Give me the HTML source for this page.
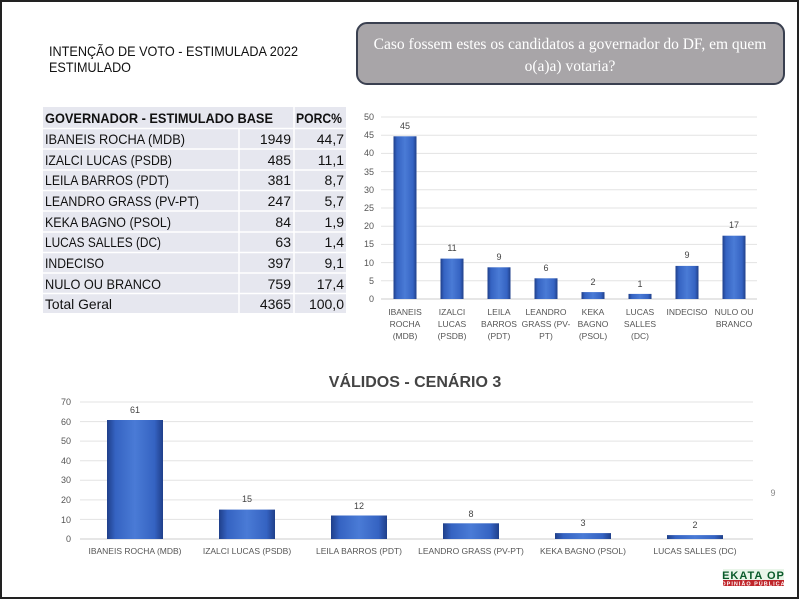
<!DOCTYPE html>
<html><head><meta charset="utf-8"><style>
html,body{margin:0;padding:0;background:#fff}
svg{display:block;font-family:"Liberation Sans",sans-serif}
</style></head><body>
<svg width="800" height="600" viewBox="0 0 800 600" xmlns="http://www.w3.org/2000/svg">
<defs>
<linearGradient id="bg" x1="0" x2="1" y1="0" y2="0">
<stop offset="0" stop-color="#1f3f8a"/><stop offset="0.15" stop-color="#3563c2"/><stop offset="0.5" stop-color="#4a7bd6"/><stop offset="0.85" stop-color="#3563c2"/><stop offset="1" stop-color="#1f3f8a"/>
</linearGradient>
</defs>
<rect x="0" y="0" width="800" height="600" fill="#fff"/>
<rect x="1" y="1" width="797" height="597" fill="none" stroke="#222" stroke-width="2"/>
<text x="49" y="56" font-size="14" fill="#111" textLength="249" lengthAdjust="spacingAndGlyphs">INTENÇÃO DE VOTO - ESTIMULADA 2022</text>
<text x="49" y="72" font-size="14" fill="#111" textLength="82" lengthAdjust="spacingAndGlyphs">ESTIMULADO</text>
<rect x="357" y="23" width="427" height="61" rx="10" fill="#a8a5a8" stroke="#3a4050" stroke-width="2"/>
<text x="570" y="49" font-size="15.5" fill="#fff" text-anchor="middle" font-family="Liberation Serif,serif">Caso fossem estes os candidatos a governador do DF, em quem</text>
<text x="570" y="71" font-size="15.5" fill="#fff" text-anchor="middle" font-family="Liberation Serif,serif">o(a)a) votaria?</text>
<!-- table -->
<rect x="43" y="107" width="303" height="206" fill="#e6e7ef"/>
<g stroke="#fff" stroke-width="1.5">
<line x1="43" y1="128.5" x2="346" y2="128.5"/><line x1="43" y1="149" x2="346" y2="149"/><line x1="43" y1="170" x2="346" y2="170"/><line x1="43" y1="190.5" x2="346" y2="190.5"/><line x1="43" y1="211" x2="346" y2="211"/><line x1="43" y1="232" x2="346" y2="232"/><line x1="43" y1="252.5" x2="346" y2="252.5"/><line x1="43" y1="273" x2="346" y2="273"/><line x1="43" y1="293.5" x2="346" y2="293.5"/>
<line x1="239" y1="128" x2="239" y2="313"/><line x1="294" y1="107" x2="294" y2="313"/>
</g>
<g font-size="14" fill="#111">
<text x="45" y="123" font-weight="bold" textLength="228" lengthAdjust="spacingAndGlyphs">GOVERNADOR - ESTIMULADO BASE</text>
<text x="296" y="123" font-weight="bold" textLength="46" lengthAdjust="spacingAndGlyphs">PORC%</text>
<g>
<text x="45" y="144" textLength="140" lengthAdjust="spacingAndGlyphs">IBANEIS ROCHA (MDB)</text>
<text x="45" y="165" textLength="127" lengthAdjust="spacingAndGlyphs">IZALCI LUCAS (PSDB)</text>
<text x="45" y="185" textLength="124" lengthAdjust="spacingAndGlyphs">LEILA BARROS (PDT)</text>
<text x="45" y="206" textLength="154" lengthAdjust="spacingAndGlyphs">LEANDRO GRASS (PV-PT)</text>
<text x="45" y="227" textLength="126" lengthAdjust="spacingAndGlyphs">KEKA BAGNO (PSOL)</text>
<text x="45" y="247" textLength="116" lengthAdjust="spacingAndGlyphs">LUCAS SALLES (DC)</text>
<text x="45" y="268" textLength="59" lengthAdjust="spacingAndGlyphs">INDECISO</text>
<text x="45" y="289" textLength="116" lengthAdjust="spacingAndGlyphs">NULO OU BRANCO</text>
<text x="45" y="309" textLength="67" lengthAdjust="spacingAndGlyphs">Total Geral</text>
</g>
<g text-anchor="end">
<text x="291" y="144">1949</text><text x="344" y="144">44,7</text>
<text x="291" y="165">485</text><text x="344" y="165">11,1</text>
<text x="291" y="185">381</text><text x="344" y="185">8,7</text>
<text x="291" y="206">247</text><text x="344" y="206">5,7</text>
<text x="291" y="227">84</text><text x="344" y="227">1,9</text>
<text x="291" y="247">63</text><text x="344" y="247">1,4</text>
<text x="291" y="268">397</text><text x="344" y="268">9,1</text>
<text x="291" y="289">759</text><text x="344" y="289">17,4</text>
<text x="291" y="309">4365</text><text x="344" y="309">100,0</text>
</g>
</g>
<!-- top chart -->
<g stroke="#e3e3e3" stroke-width="1">
<line x1="381" x2="757" y1="117" y2="117"/><line x1="381" x2="757" y1="135.2" y2="135.2"/><line x1="381" x2="757" y1="153.4" y2="153.4"/><line x1="381" x2="757" y1="171.6" y2="171.6"/><line x1="381" x2="757" y1="189.8" y2="189.8"/><line x1="381" x2="757" y1="208" y2="208"/><line x1="381" x2="757" y1="226.2" y2="226.2"/><line x1="381" x2="757" y1="244.4" y2="244.4"/><line x1="381" x2="757" y1="262.6" y2="262.6"/><line x1="381" x2="757" y1="280.8" y2="280.8"/>
</g>
<line x1="381" x2="757" y1="299" y2="299" stroke="#ccc"/>
<g font-size="9" fill="#555" text-anchor="end">
<text x="374" y="120">50</text><text x="374" y="138">45</text><text x="374" y="156">40</text><text x="374" y="175">35</text><text x="374" y="193">30</text><text x="374" y="211">25</text><text x="374" y="229">20</text><text x="374" y="247">15</text><text x="374" y="266">10</text><text x="374" y="284">5</text><text x="374" y="302">0</text>
</g>
<g fill="url(#bg)">
<rect x="393.5" y="136.3" width="23" height="162.7"/>
<rect x="440.5" y="258.6" width="23" height="40.4"/>
<rect x="487.5" y="267.3" width="23" height="31.7"/>
<rect x="534.5" y="278.3" width="23" height="20.7"/>
<rect x="581.5" y="292.1" width="23" height="6.9"/>
<rect x="628.5" y="293.9" width="23" height="5.1"/>
<rect x="675.5" y="265.9" width="23" height="33.1"/>
<rect x="722.5" y="235.7" width="23" height="63.3"/>
</g>
<g font-size="9" fill="#444" text-anchor="middle">
<text x="405" y="129">45</text><text x="452" y="251">11</text><text x="499" y="260">9</text><text x="546" y="271">6</text><text x="593" y="285">2</text><text x="640" y="287">1</text><text x="687" y="258">9</text><text x="734" y="228">17</text>
</g>
<g font-size="8.5" fill="#555" text-anchor="middle">
<text x="405" y="315">IBANEIS</text><text x="405" y="327">ROCHA</text><text x="405" y="339">(MDB)</text>
<text x="452" y="315">IZALCI</text><text x="452" y="327">LUCAS</text><text x="452" y="339">(PSDB)</text>
<text x="499" y="315">LEILA</text><text x="499" y="327">BARROS</text><text x="499" y="339">(PDT)</text>
<text x="546" y="315">LEANDRO</text><text x="546" y="327">GRASS (PV-</text><text x="546" y="339">PT)</text>
<text x="593" y="315">KEKA</text><text x="593" y="327">BAGNO</text><text x="593" y="339">(PSOL)</text>
<text x="640" y="315">LUCAS</text><text x="640" y="327">SALLES</text><text x="640" y="339">(DC)</text>
<text x="687" y="315">INDECISO</text>
<text x="734" y="315">NULO OU</text><text x="734" y="327">BRANCO</text>
</g>
<!-- bottom chart -->
<text x="415" y="387" font-size="16" font-weight="bold" fill="#444" text-anchor="middle">VÁLIDOS - CENÁRIO 3</text>
<g stroke="#e3e3e3" stroke-width="1">
<line x1="80" x2="753" y1="402" y2="402"/><line x1="80" x2="753" y1="421.6" y2="421.6"/><line x1="80" x2="753" y1="441.1" y2="441.1"/><line x1="80" x2="753" y1="460.7" y2="460.7"/><line x1="80" x2="753" y1="480.3" y2="480.3"/><line x1="80" x2="753" y1="499.9" y2="499.9"/><line x1="80" x2="753" y1="519.4" y2="519.4"/>
</g>
<line x1="80" x2="753" y1="539" y2="539" stroke="#ccc"/>
<g font-size="9" fill="#555" text-anchor="end">
<text x="71" y="405">70</text><text x="71" y="425">60</text><text x="71" y="444">50</text><text x="71" y="464">40</text><text x="71" y="483">30</text><text x="71" y="503">20</text><text x="71" y="523">10</text><text x="71" y="542">0</text>
</g>
<g fill="url(#bg)">
<rect x="107" y="420" width="56" height="119"/>
<rect x="219" y="509.6" width="56" height="29.4"/>
<rect x="331" y="515.5" width="56" height="23.5"/>
<rect x="443" y="523.3" width="56" height="15.7"/>
<rect x="555" y="533.1" width="56" height="5.9"/>
<rect x="667" y="535.1" width="56" height="3.9"/>
</g>
<g font-size="9" fill="#444" text-anchor="middle">
<text x="135" y="413">61</text><text x="247" y="502">15</text><text x="359" y="509">12</text><text x="471" y="517">8</text><text x="583" y="526">3</text><text x="695" y="528">2</text>
<text x="773" y="496" fill="#888">9</text>
</g>
<g font-size="8.5" fill="#555" text-anchor="middle">
<text x="135" y="554">IBANEIS ROCHA (MDB)</text><text x="247" y="554">IZALCI LUCAS (PSDB)</text><text x="359" y="554">LEILA BARROS (PDT)</text><text x="471" y="554">LEANDRO GRASS (PV-PT)</text><text x="583" y="554">KEKA BAGNO (PSOL)</text><text x="695" y="554">LUCAS SALLES (DC)</text>
</g>
<!-- logo -->
<rect x="723" y="569" width="61" height="11" fill="#e9f5e9"/>
<text x="753.5" y="579" font-size="11" font-weight="bold" fill="#0a5a2a" text-anchor="middle" letter-spacing="1">EKATA OP</text>
<rect x="723" y="580" width="61" height="6" fill="#c0262b"/>
<text x="753.5" y="585.5" font-size="5.5" font-weight="bold" fill="#fff" text-anchor="middle" letter-spacing="1">OPINIÃO PÚBLICA</text>
</svg>
</body></html>
